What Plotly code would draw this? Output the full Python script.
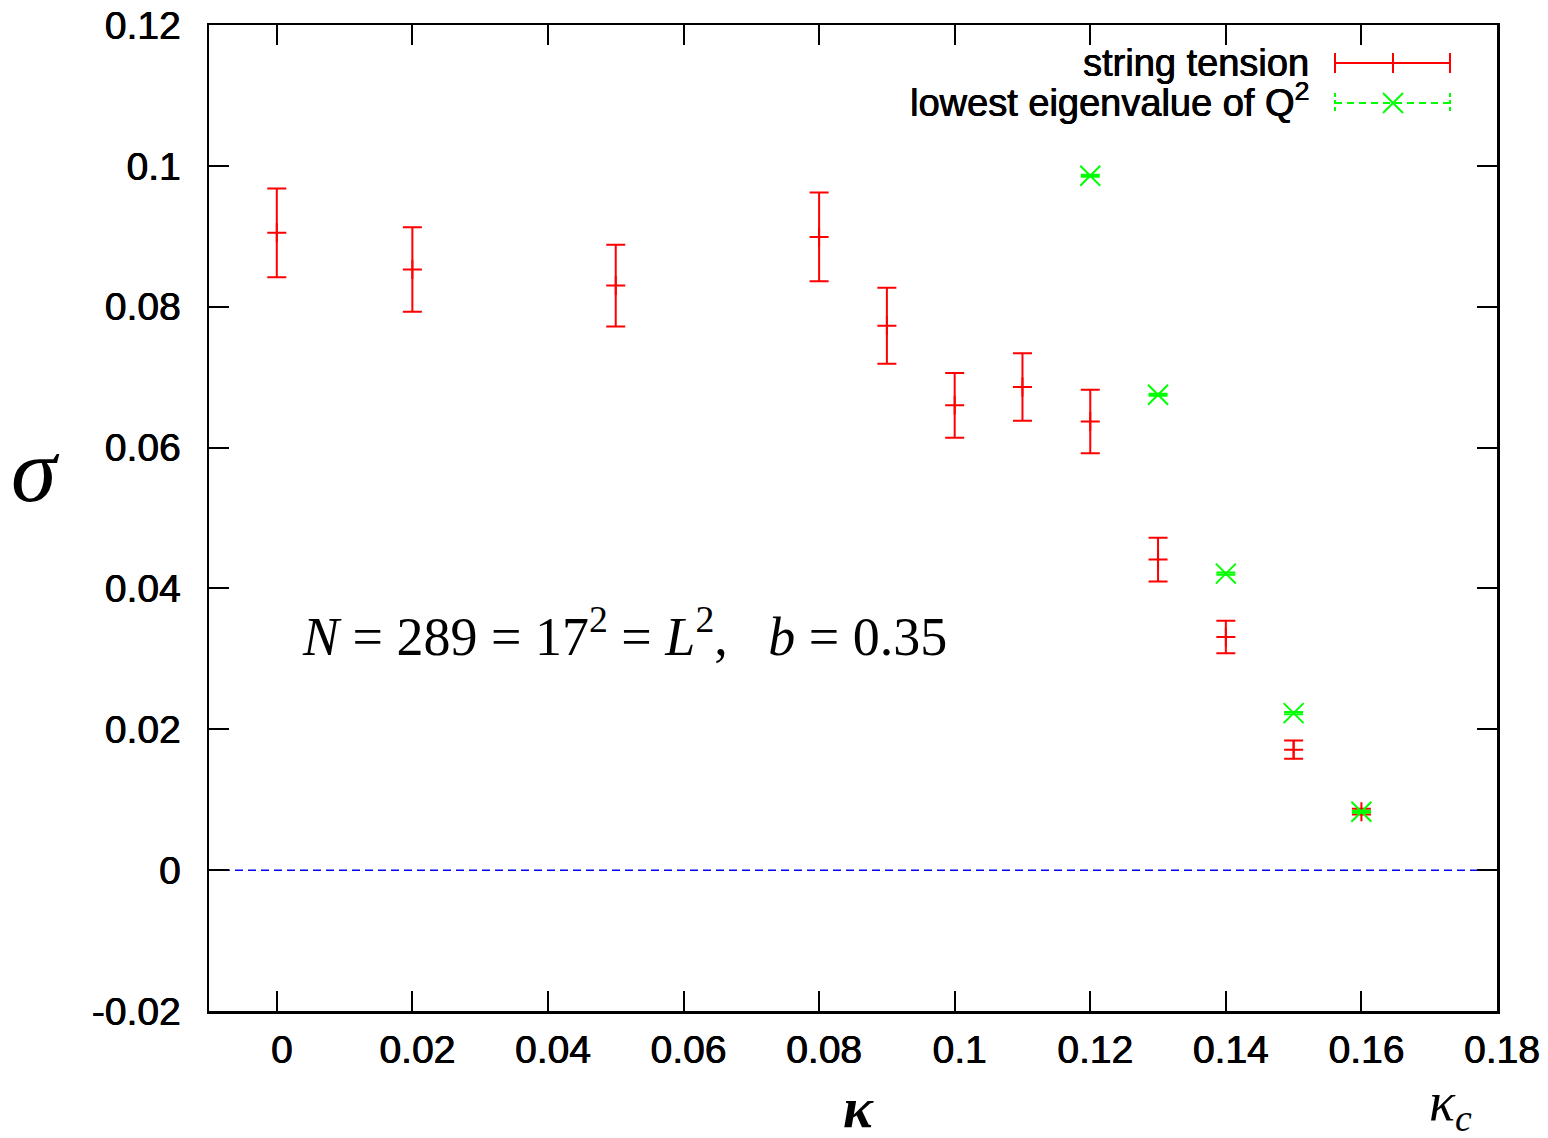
import plotly.graph_objects as go

# ---------------- data ----------------
kappa_st = [0.0, 0.02, 0.05, 0.08, 0.09, 0.10, 0.11, 0.12, 0.13, 0.14, 0.15, 0.16]
sigma_st = [0.0905, 0.0853, 0.0830, 0.0899, 0.0773, 0.0660, 0.0686, 0.0637, 0.0441, 0.0331, 0.0171, 0.0083]
err_st = [0.0063, 0.0060, 0.0058, 0.0063, 0.0054, 0.0046, 0.0048, 0.0045, 0.0031, 0.0023, 0.0013, 0.0004]

kappa_ev = [0.12, 0.13, 0.14, 0.15, 0.16]
sigma_ev = [0.0986, 0.0675, 0.0421, 0.0223, 0.0083]
err_ev = [0.00015, 0.00015, 0.00015, 0.00015, 0.00015]

x_ticks = [0.0, 0.02, 0.04, 0.06, 0.08, 0.10, 0.12, 0.14, 0.16, 0.18]
x_tick_labels = ["0", "0.02", "0.04", "0.06", "0.08", "0.1", "0.12", "0.14", "0.16", "0.18"]
y_ticks = [-0.02, 0.0, 0.02, 0.04, 0.06, 0.08, 0.10, 0.12]
y_tick_labels = ["-0.02", "0", "0.02", "0.04", "0.06", "0.08", "0.1", "0.12"]

RED = "#ff0000"
GREEN = "#00ff00"
BLUE = "#0000ff"
SANS = "Liberation Sans, Arial, sans-serif"
SERIF = "Liberation Serif, Times New Roman, serif"
THICK = "0.5px 0 0 #000, -0.3px 0 0 #000"

FIG_W, FIG_H = 1548, 1138
L, T = 209, 25
PLOT_R, PLOT_B = 1497, 1011
R, B = FIG_W - PLOT_R, FIG_H - PLOT_B

fig = go.Figure()

fig.add_trace(go.Scatter(
    x=kappa_st, y=sigma_st, mode="markers", name="string tension",
    marker=dict(symbol="cross-thin", size=13.6, line=dict(color=RED, width=2), color=RED),
    error_y=dict(type="data", array=err_st, visible=True, color=RED, thickness=2, width=9.5),
    showlegend=False, hoverinfo="skip",
))
fig.add_trace(go.Scatter(
    x=kappa_ev, y=sigma_ev, mode="markers", name="lowest eigenvalue of Q²",
    marker=dict(symbol="x-thin", size=20, line=dict(color=GREEN, width=2), color=GREEN),
    error_y=dict(type="data", array=err_ev, visible=True, color=GREEN, thickness=2, width=9.5),
    showlegend=False, hoverinfo="skip",
))

# zero line
fig.add_shape(type="line", xref="paper", yref="y", x0=0, x1=1, y0=0, y1=0,
              line=dict(color=BLUE, width=1.5, dash="8px,5px"), layer="below")

# ---- gnuplot-like key (text right, sample left); page pixel -> paper coords ----
PW = PLOT_R - L
PH = PLOT_B - T


def px(X):
    return (X - L) / PW


def py(Y):
    return (PLOT_B - Y) / PH


key_rows = [("string tension", 63, RED, "solid", "plus", 0),
            ("lowest eigenvalue of Q<sup>2</sup>", 103, GREEN, "7px,5px", "x", -3)]
for text, yy, col, dash, mk, dy in key_rows:
    fig.add_annotation(x=px(1311), y=py(yy + dy), xref="paper", yref="paper",
                       text=text, showarrow=False, xanchor="right", yanchor="middle",
                       font=dict(family=SANS, size=38, color="black", shadow=THICK))
    fig.add_shape(type="line", xref="paper", yref="paper", x0=px(1335), x1=px(1450),
                  y0=py(yy), y1=py(yy), line=dict(color=col, width=2, dash=dash))
    for xe in (1335, 1450):
        fig.add_shape(type="line", xref="paper", yref="paper", x0=px(xe), x1=px(xe),
                      y0=py(yy - 10), y1=py(yy + 10),
                      line=dict(color=col, width=2, dash="solid" if mk == "plus" else "4px,3px"))
    if mk == "plus":
        fig.add_shape(type="line", xref="paper", yref="paper", x0=px(1393), x1=px(1393),
                      y0=py(yy - 10), y1=py(yy + 10), line=dict(color=col, width=2))
    else:
        fig.add_shape(type="line", xref="paper", yref="paper", x0=px(1383), x1=px(1403),
                      y0=py(yy - 10), y1=py(yy + 10), line=dict(color=col, width=2))
        fig.add_shape(type="line", xref="paper", yref="paper", x0=px(1383), x1=px(1403),
                      y0=py(yy + 10), y1=py(yy - 10), line=dict(color=col, width=2))

# in-plot label
fig.add_annotation(x=px(300), y=py(632), xref="paper", yref="paper", showarrow=False,
                   xanchor="left", yanchor="middle",
                   text="<i>N</i> = 289 = 17<sup>2</sup> = <i>L</i><sup>2</sup>,   <i>b</i> = 0.35",
                   font=dict(family=SERIF, size=54, color="black"))

# axis labels
fig.add_annotation(x=px(858), y=py(1108), xref="paper", yref="paper", showarrow=False,
                   xanchor="center", yanchor="middle", text="<b><i>κ</i></b>",
                   font=dict(family=SERIF, size=56, color="black"))
fig.add_annotation(x=px(1450), y=py(1105), xref="paper", yref="paper", showarrow=False,
                   xanchor="center", yanchor="middle", text="<i>κ<sub>c</sub></i>",
                   font=dict(family=SERIF, size=54, color="black"))
fig.add_annotation(x=px(35), y=py(470), xref="paper", yref="paper", showarrow=False,
                   xanchor="center", yanchor="middle", text="<i>σ</i>",
                   font=dict(family=SERIF, size=92, color="black"))

axis_common = dict(showgrid=False, zeroline=False, showline=True, linecolor="black",
                   linewidth=2.5, mirror="ticks", ticks="inside", ticklen=20,
                   tickwidth=2, tickcolor="black", ticklabeloverflow="allow",
                   automargin=False,
                   tickfont=dict(family=SANS, size=39, color="black", shadow=THICK))

fig.update_xaxes(range=[-0.01, 0.18], tickvals=x_ticks, ticktext=x_tick_labels,
                 ticklabelstandoff=3, ticklabelshift=5, **axis_common)
fig.update_yaxes(range=[-0.02, 0.12], tickvals=y_ticks, ticktext=y_tick_labels,
                 ticklabelstandoff=18, **axis_common)

fig.update_layout(
    template="none",
    width=FIG_W, height=FIG_H,
    margin=dict(l=L, r=R, t=T, b=B, autoexpand=False),
    plot_bgcolor="white", paper_bgcolor="white",
    showlegend=False, hovermode=False,
)

fig.write_html("out.html", config={"displayModeBar": False, "staticPlot": True},
               post_script="document.body.style.margin='0';document.body.style.overflow='hidden';")
